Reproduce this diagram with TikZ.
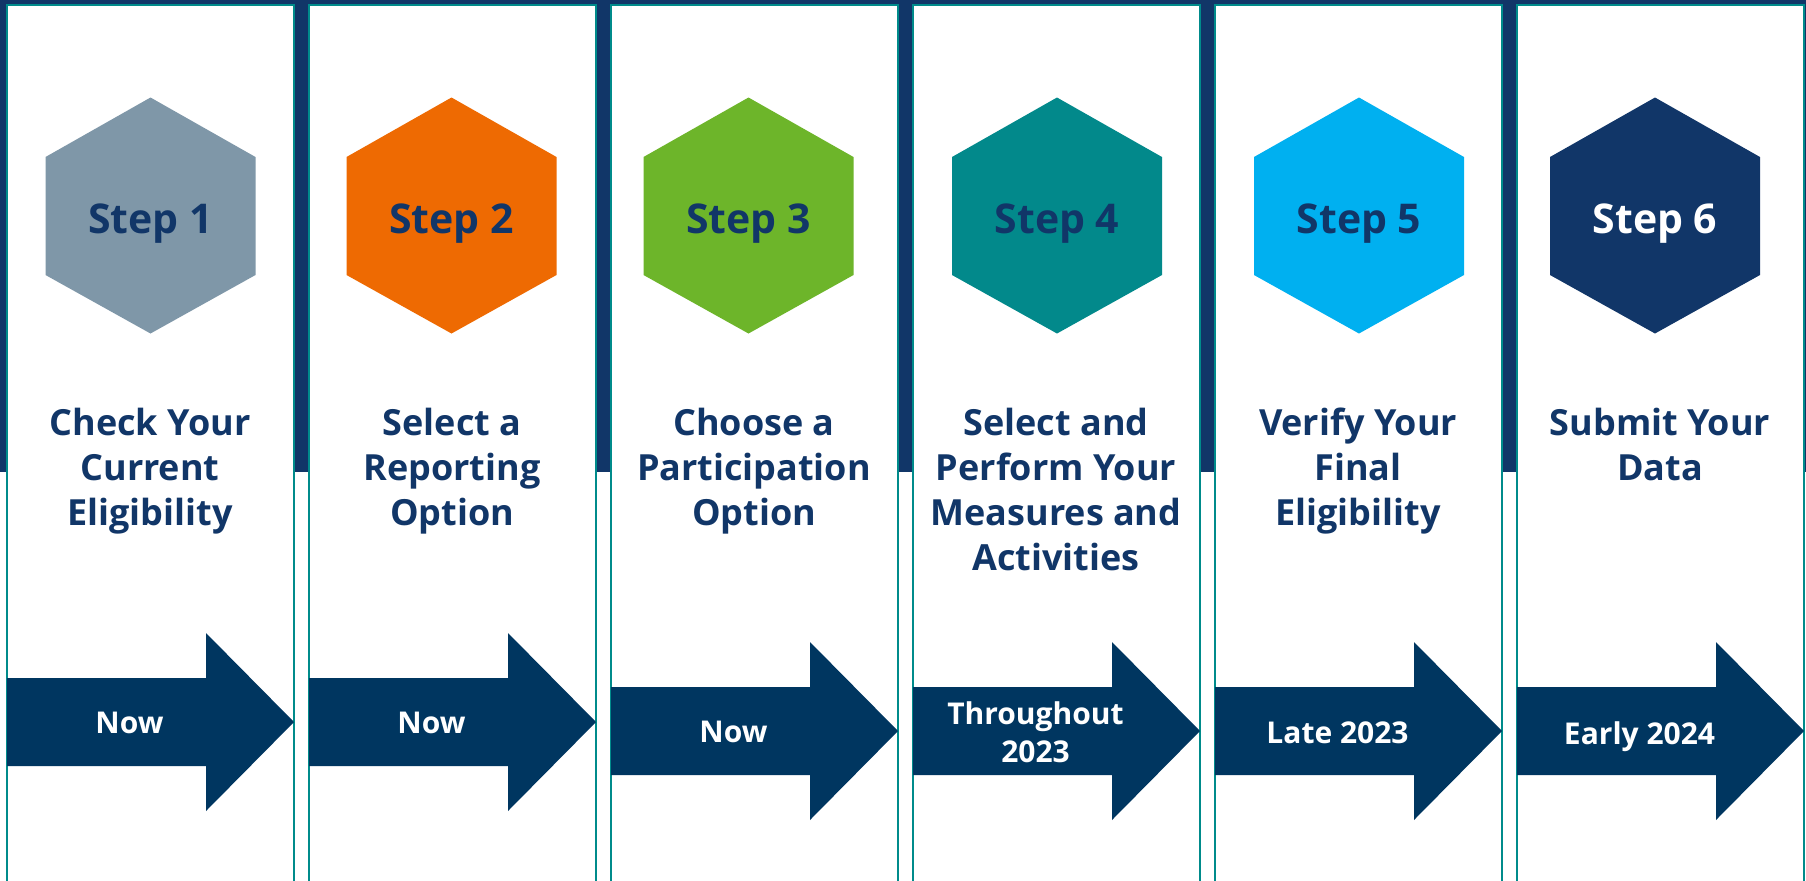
\documentclass[tikz,border=0pt]{standalone}
\usepackage{fontspec}
\setmainfont{Open Sans}
\definecolor{bandc}{RGB}{17,54,104}
\definecolor{arrowc}{RGB}{0,54,96}
\definecolor{tealc}{RGB}{0,139,139}
\definecolor{navyt}{RGB}{17,54,104}
\definecolor{hexa}{RGB}{127,151,168}
\definecolor{hexb}{RGB}{238,106,2}
\definecolor{hexc}{RGB}{109,181,42}
\definecolor{hexd}{RGB}{2,137,139}
\definecolor{hexe}{RGB}{0,176,240}
\definecolor{hexf}{RGB}{17,54,104}
\tikzset{
  colbox/.style={draw=tealc, line width=1pt, fill=white},
  arrowshape/.style={fill=arrowc},
  steptext/.style={font=\bfseries\fontsize{20.5}{24}\selectfont, inner sep=0, anchor=base},
  titletext/.style={font=\bfseries\fontsize{18}{22.5}\selectfont, text=navyt, inner sep=0, anchor=north, align=center},
  whentext/.style={font=\bfseries\fontsize{15}{19.3}\selectfont, text=white, inner sep=0, align=center}
}
\begin{document}
\begin{tikzpicture}[x=0.5pt,y=-0.5pt]
\useasboundingbox (0,0) rectangle (1806,880);
\clip (0,0) rectangle (1806,880);
\fill[bandc] (0,0) rectangle (1806,472);
\foreach \i/\hx/\hc/\tc/\title/\when/\ac/\wy in {
  0/150.5/hexa/navyt/{Check Your\\Current\\Eligibility}/{Now}/722/712,
  1/451.5/hexb/navyt/{Select a\\Reporting\\Option}/{Now}/722/712,
  2/748.5/hexc/navyt/{Choose a\\Participation\\Option}/{Now}/731/721,
  3/1057/hexd/navyt/{Select and\\Perform Your\\Measures and\\Activities}/{Throughout\\2023}/731/701,
  4/1359/hexe/navyt/{Verify Your\\Final\\Eligibility}/{Late 2023}/731/721,
  5/1655/hexf/white/{Submit Your\\Data}/{Early 2024}/731/721}
{
  \pgfmathsetmacro{\L}{6+302*\i}
  \pgfmathsetmacro{\R}{\L+287}
  \pgfmathsetmacro{\C}{\L+144}
  \pgfmathsetmacro{\H}{\L+200}
  \pgfmathsetmacro{\W}{\L+123.5}
  \pgfmathtruncatemacro{\n}{\i+1}
  \node[colbox, anchor=north west, minimum width=143.5pt, minimum height=445pt, inner sep=0] (col\n) at (\L,4) {};
  \fill[\hc] (\hx,97.5) -- (\hx+105,157) -- (\hx+105,275) -- (\hx,333.5) -- (\hx-105,275) -- (\hx-105,157) -- cycle;
  \node[steptext, text=\tc] (step\n) at (\hx,233) {Step \n};
  \node[titletext] (title\n) at (\C,407.5) {\title};
  \fill[arrowshape] (\L+1,\ac-44) -- (\H,\ac-44) -- (\H,\ac-89) -- (\R+1,\ac) -- (\H,\ac+89) -- (\H,\ac+44) -- (\L+1,\ac+44) -- cycle;
  \node[whentext, anchor=north] (when\n) at (\W,\wy) {\when};
}
\end{tikzpicture}
\end{document}
